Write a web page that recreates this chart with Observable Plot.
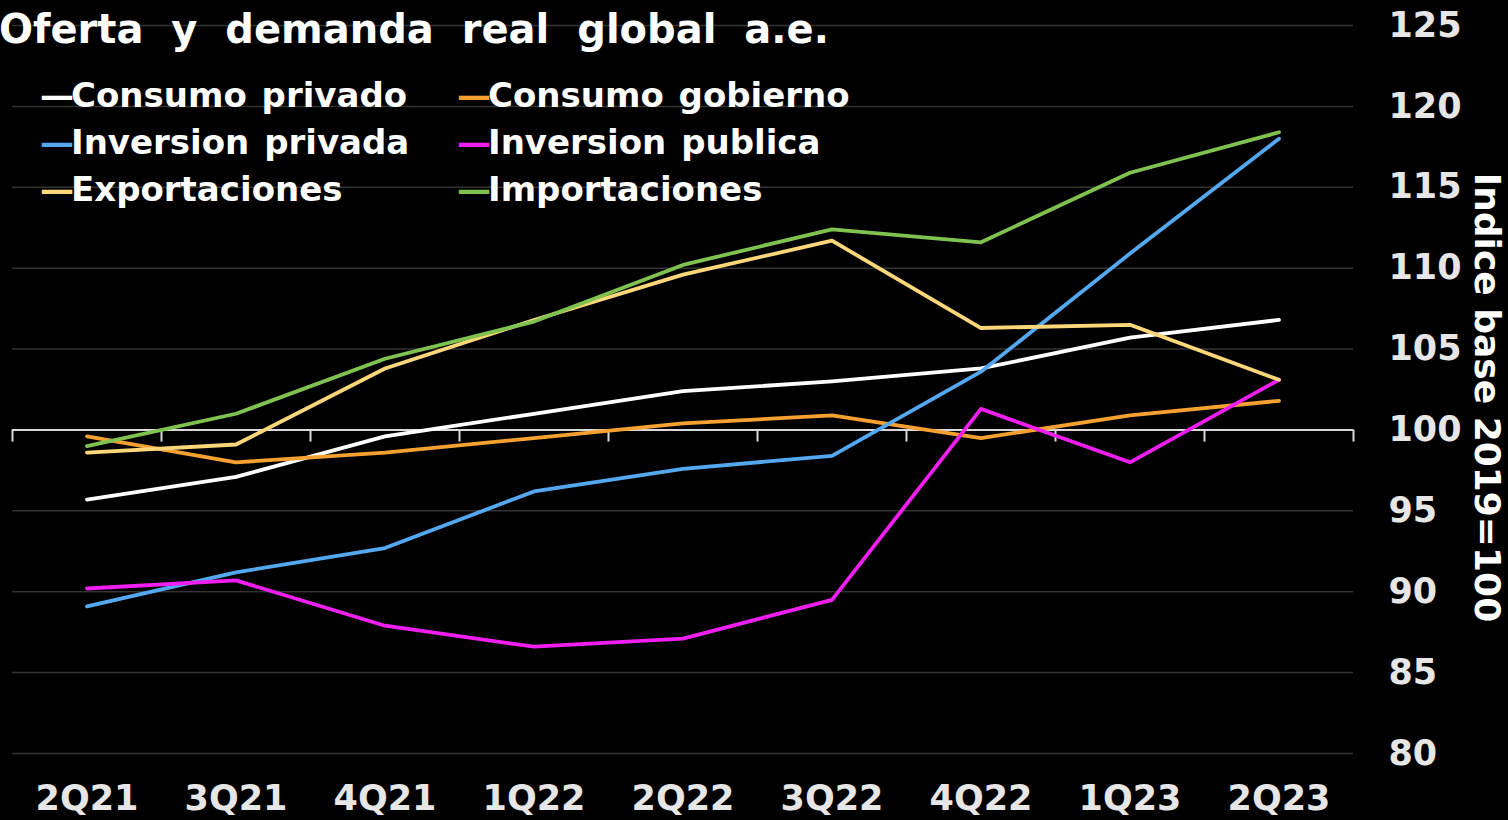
<!DOCTYPE html>
<html>
<head>
<meta charset="utf-8">
<script src="https://cdn.jsdelivr.net/npm/d3@7"></script>
<script src="https://cdn.jsdelivr.net/npm/@observablehq/plot@0.6"></script>
<style>
  html, body { margin: 0; padding: 0; background: #000; }
  #wrap { position: relative; width: 1508px; height: 820px; overflow: hidden; background: #000; }
  #title { position: absolute; left: -1px; top: 6px; line-height: 56px; color: #fff; font: bold 40px "DejaVu Sans"; white-space: nowrap; word-spacing: 14px; }
  #legend { position: absolute; left: 40px; top: 71px; color: #fff; font: bold 34px "DejaVu Sans"; }
  .item { position: absolute; white-space: nowrap; line-height: 48px; word-spacing: 3px; }
  .dash { letter-spacing: -3px; }
</style>
</head>
<body>
<div id="wrap">
  <div id="chart"></div>
  <div id="title">Oferta y demanda real global a.e.</div>
  <div id="legend"></div>
</div>
<script>
const categories = ["2Q21","3Q21","4Q21","1Q22","2Q22","3Q22","4Q22","1Q23","2Q23"];
const seriesNames = ["Consumo privado","Consumo gobierno","Inversion privada","Inversion publica","Exportaciones","Importaciones"];
const seriesColors = ["#ffffff","#f5a031","#53a8ef","#f01ef0","#fbd77a","#80c250"];
const consumoPrivado   = [95.7, 97.1, 99.6, 101.0, 102.4, 103.0, 103.8, 105.7, 106.8];
const consumoGobierno  = [99.6, 98.0, 98.6, 99.5, 100.4, 100.9, 99.5, 100.9, 101.8];
const inversionPrivada = [89.1, 91.2, 92.7, 96.2, 97.6, 98.4, 103.6, 110.9, 118.0];
const inversionPublica = [90.2, 90.7, 87.9, 86.6, 87.1, 89.5, 101.3, 98.0, 103.1];
const exportaciones    = [98.6, 99.1, 103.8, 106.8, 109.6, 111.7, 106.3, 106.5, 103.1];
const importaciones    = [99.0, 101.0, 104.4, 106.7, 110.2, 112.4, 111.6, 115.9, 118.4];
const yTicks = [80, 85, 90, 95, 100, 105, 110, 115, 120, 125];
const yLabel = "Indice base 2019=100";

const seriesValues = [consumoPrivado, consumoGobierno, inversionPrivada, inversionPublica, exportaciones, importaciones];
const rows = [];
seriesValues.forEach((vals, s) => vals.forEach((v, i) => rows.push({series: seriesNames[s], i, value: v})));
const boundaries = d3.range(categories.length + 1).map(i => i - 0.5);

const chart = Plot.plot({
  width: 1508,
  height: 820,
  marginLeft: 12,
  marginRight: 155,
  marginTop: 25,
  marginBottom: 67,
  style: {background: "#000", color: "#e6e6e6"},
  x: {type: "linear", domain: [-0.5, categories.length - 0.5]},
  y: {domain: [80, 125]},
  color: {domain: seriesNames, range: seriesColors},
  marks: [
    Plot.gridY(yTicks.filter(t => t !== 100), {stroke: "#333", strokeOpacity: 1, strokeWidth: 1.5}),
    Plot.ruleY([100], {stroke: "#d9d9d9", strokeWidth: 2}),
    Plot.ruleX(boundaries, {x: d => d, y1: 100, y2: 99.25, stroke: "#d9d9d9", strokeWidth: 2}),
    Plot.line(rows, {x: "i", y: "value", z: "series", stroke: "series", strokeWidth: 3.8}),
    Plot.axisY(yTicks, {anchor: "right", tickSize: 0, tickPadding: 35, textAnchor: "start", fontSize: 35, fontWeight: "bold", fontFamily: "DejaVu Sans", fill: "#e6e6e6", label: null}),
    Plot.axisX(d3.range(categories.length), {anchor: "bottom", tickSize: 0, tickPadding: 32, tickFormat: i => categories[i], fontSize: 35, fontWeight: "bold", fontFamily: "DejaVu Sans", fill: "#e6e6e6", label: null}),
    Plot.text([yLabel], {frameAnchor: "right", dx: 133, dy: 8, rotate: 90, textAnchor: "middle", fontSize: 36, fontWeight: "bold", fontFamily: "DejaVu Sans", fill: "#fff"})
  ]
});
document.getElementById("chart").appendChild(chart);

const legend = document.getElementById("legend");
seriesNames.forEach((name, k) => {
  const col = k % 2, row = Math.floor(k / 2);
  const item = document.createElement("div");
  item.className = "item";
  item.style.left = (col * 417) + "px";
  item.style.top = (row * 47) + "px";
  const dash = document.createElement("span");
  dash.className = "dash";
  dash.style.color = seriesColors[k];
  dash.textContent = "—";
  item.appendChild(dash);
  item.appendChild(document.createTextNode(name));
  legend.appendChild(item);
});
</script>
</body>
</html>
